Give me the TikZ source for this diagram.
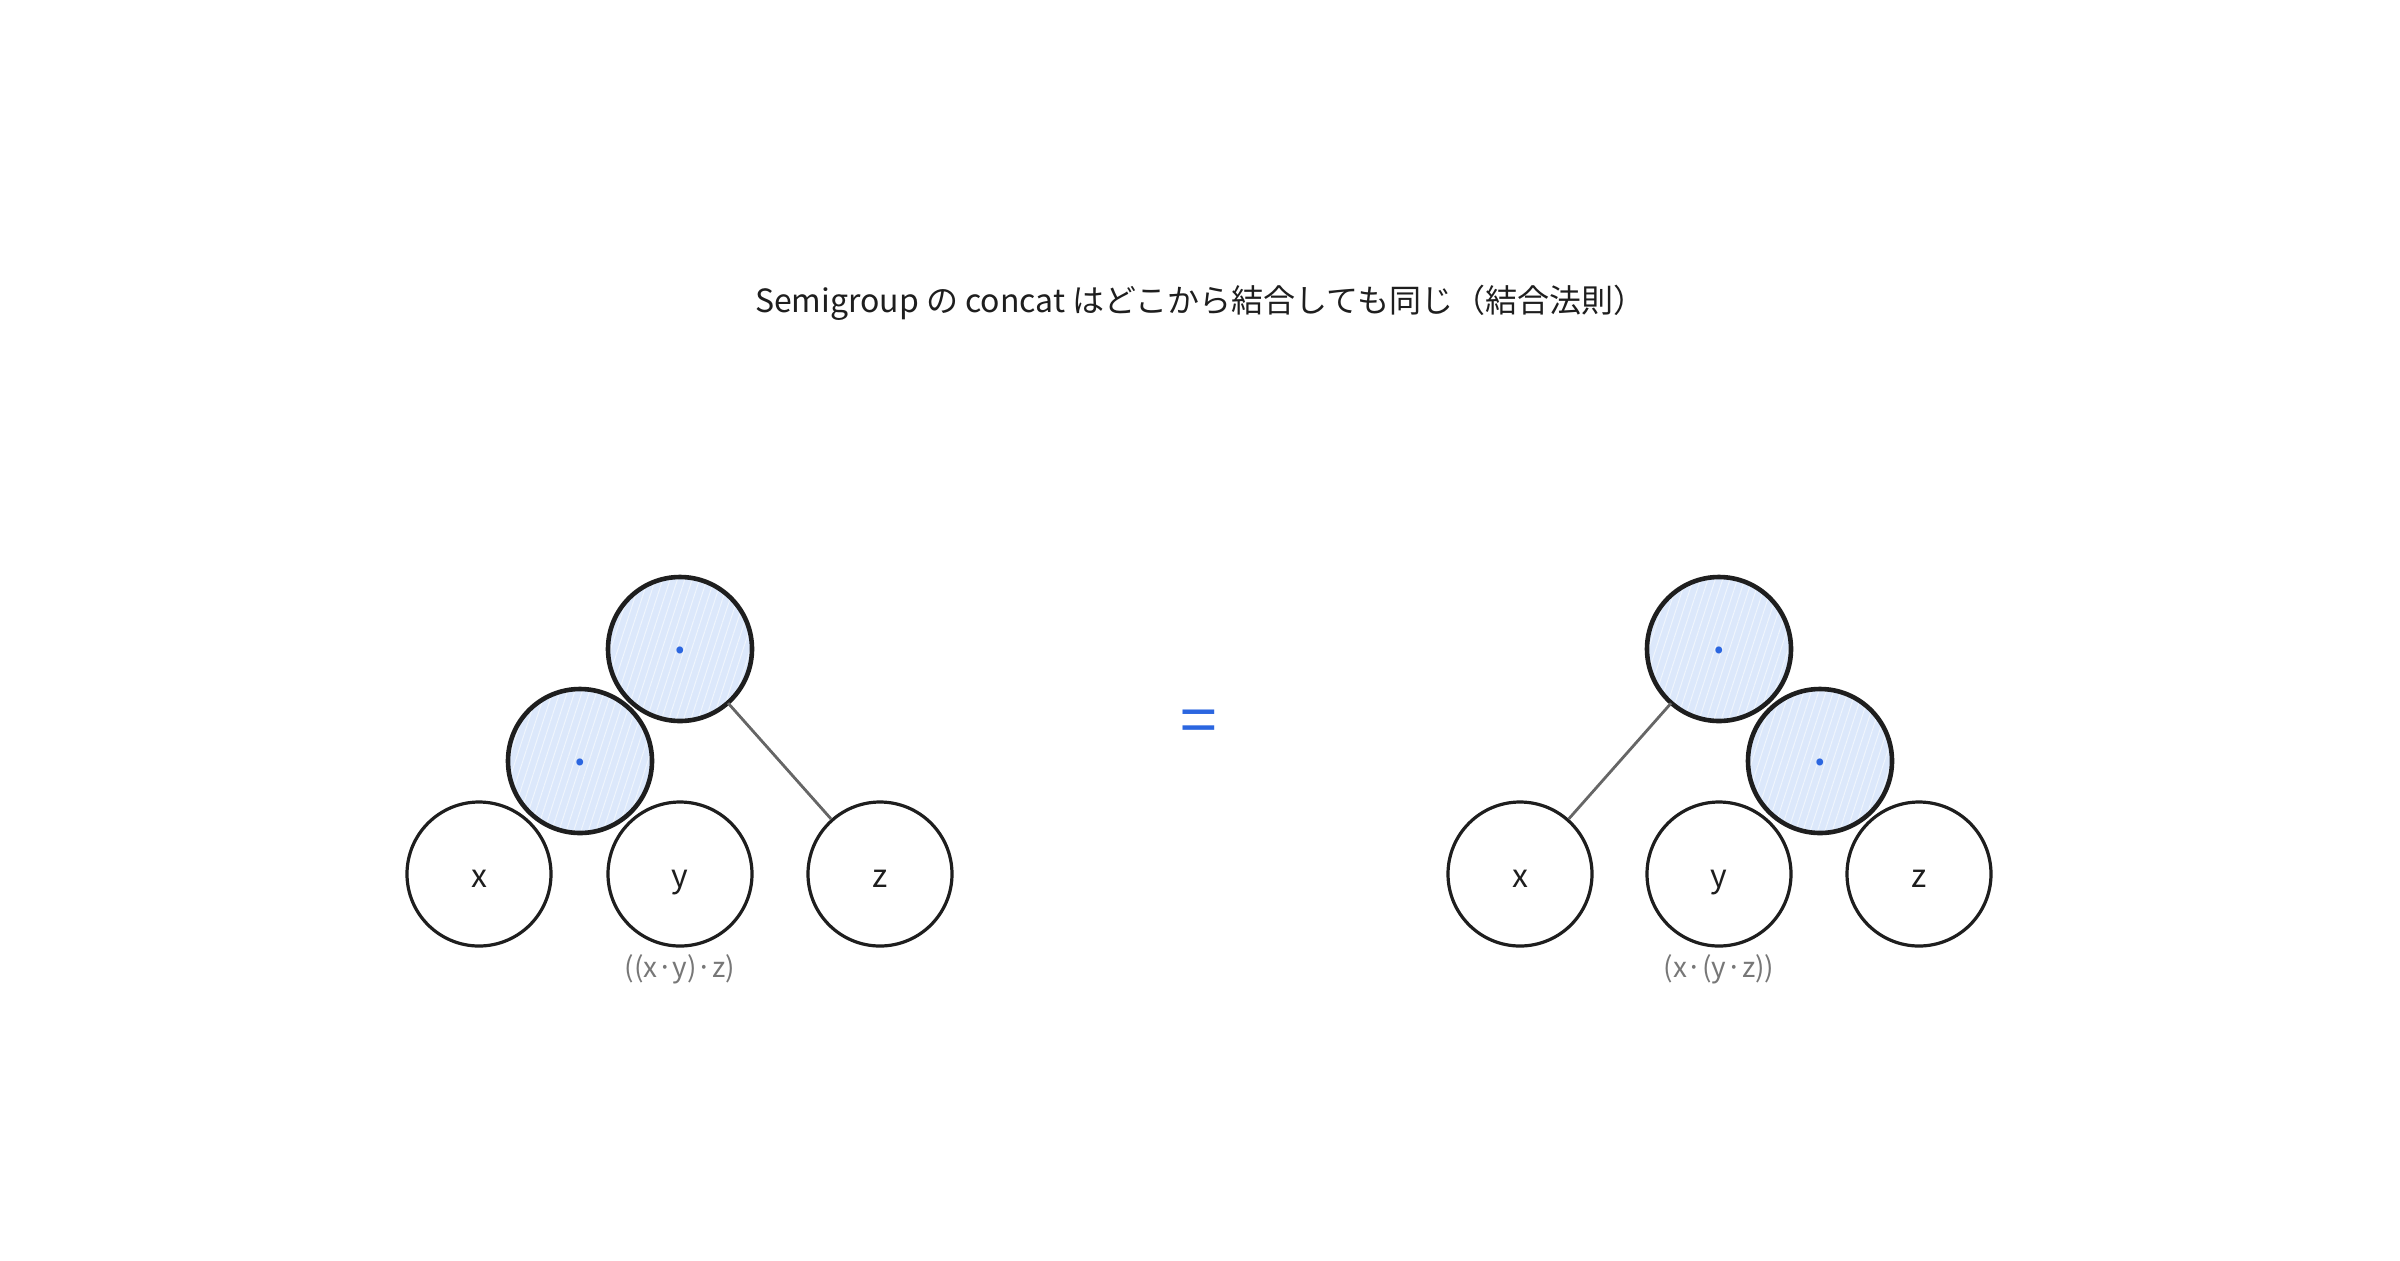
\documentclass[tikz,border=0pt]{standalone}
\usepackage{fontspec}
\setmainfont{Noto Sans CJK JP}
\usetikzlibrary{patterns.meta}
\definecolor{ink}{HTML}{1E1E1E}
\definecolor{opfill}{HTML}{DCE8FB}
\definecolor{accent}{HTML}{2B66E0}
\definecolor{edgegrey}{HTML}{666666}
\definecolor{captiongrey}{HTML}{777777}
\begin{document}
\begin{tikzpicture}[x=0.5pt,y=-0.5pt,
  leaf/.style={circle,draw=ink,line width=1.6pt,fill=white,minimum size=72pt,inner sep=0pt,text height=1ex+7.6pt,text depth=0pt,font=\fontsize{16pt}{18pt}\selectfont,text=ink},
  opnode/.style={circle,fill=opfill,
    postaction={pattern={Lines[angle=72,distance=3.5pt,line width=0.5pt]},pattern color=white!55!opfill},
    postaction={draw=ink,line width=2.3pt},
    minimum size=72pt,inner sep=0pt,text height=1.05em+3pt,text depth=0pt,font=\fontsize{16pt}{18pt}\selectfont\bfseries,text=accent},
  edgeline/.style={draw=edgegrey,line width=1.4pt},
  captext/.style={font=\fontsize{14pt}{16pt}\selectfont,text=captiongrey},
  titletext/.style={font=\fontsize{16pt}{20pt}\selectfont,text=ink}]
\useasboundingbox (0,0) rectangle (2400,1260);
\fill[white] (0,0) rectangle (2400,1260);
\node[titletext] (ttl) at (1200,303) {Semigroup の concat はどこから結合しても同じ（結合法則）};
% left tree
\node[leaf] (lx) at (479,874) {x};
\node[leaf] (ly) at (680,874) {y};
\node[leaf] (lz) at (880,874) {z};
\node[opnode] (lm) at (580,761) {·};
\node[opnode] (lt) at (680,649) {·};
\draw[edgeline] (lt) -- (lz);
\node[captext] (lcap) at (680,969) {((x·y)·z)};
% equals
\node[font=\fontsize{33pt}{35pt}\selectfont,text=accent] (eq) at (1199,727) {=};
% right tree
\node[leaf] (rx) at (1520,874) {x};
\node[leaf] (ry) at (1719,874) {y};
\node[leaf] (rz) at (1919,874) {z};
\node[opnode] (rm) at (1820,761) {·};
\node[opnode] (rt) at (1719,649) {·};
\draw[edgeline] (rt) -- (rx);
\node[captext] (rcap) at (1719,969) {(x·(y·z))};
\end{tikzpicture}
\end{document}
